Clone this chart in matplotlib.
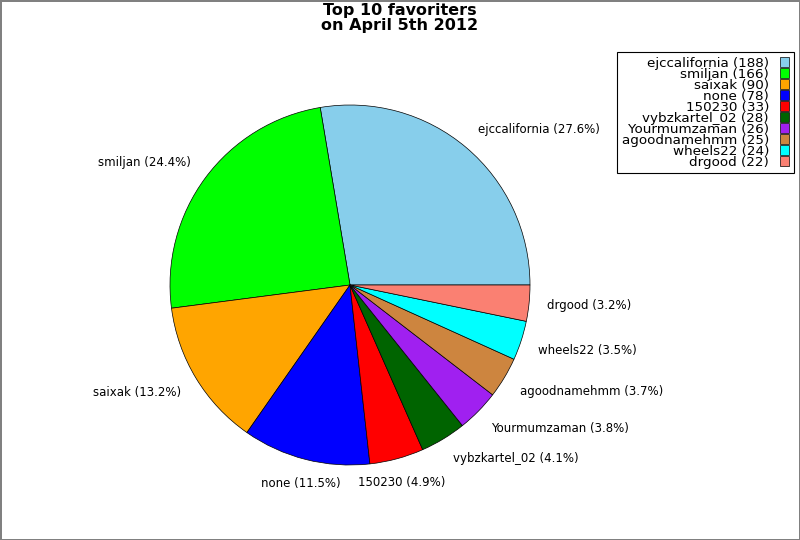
import matplotlib
matplotlib.use("Agg")
import numpy as np
import matplotlib.pyplot as plt

users = ["ejccalifornia", "smiljan", "saixak", "none", "150230",
         "vybzkartel_02", "Yourmumzaman", "agoodnamehmm", "wheels22", "drgood"]
counts = [188, 166, 90, 78, 33, 28, 26, 25, 24, 22]
colors = ["skyblue", "#00ff00", "orange", "blue", "red",
          "darkgreen", "#a020f0", "peru", "cyan", "salmon"]

total = float(sum(counts))
pie_labels = ["%s (%.1f%%)" % (u, 100.0 * c / total) for u, c in zip(users, counts)]
legend_labels = ["%s (%d)" % (u, c) for u, c in zip(users, counts)]

fig = plt.figure(figsize=(8, 5.4), dpi=100, edgecolor="gray", linewidth=1)
# pie of radius ~180px centred at (350, 285) from the top-left
ax = fig.add_axes([170 / 800., 75 / 540., 360 / 800., 360 / 540.])
wedges, texts = ax.pie(counts, labels=pie_labels, colors=colors, startangle=0,
                       counterclock=True, labeldistance=1.1,
                       wedgeprops={"edgecolor": "black", "linewidth": 0.5},
                       textprops={"fontsize": 8.5})
ax.set_xlim(-1, 1)
ax.set_ylim(-1, 1)
ax.set_aspect("equal")

# labels near the bottom are centred under their wedge,
# the others are pushed a little away from the horizontal
for w, t in zip(wedges, texts):
    mid = np.deg2rad((w.theta1 + w.theta2) / 2.0)
    if abs(np.cos(mid)) < 0.4:
        t.set_ha("center")
        t.set_va("top")
    elif abs(np.sin(mid)) > 0.3:
        x, y = t.get_position()
        t.set_position((x, y + 0.026 * np.sign(np.sin(mid))))

fig.suptitle("Top 10 favoriters\non April 5th 2012", fontsize=11.5,
             fontweight="bold", y=0.994, linespacing=1.0)

leg = fig.legend(wedges, legend_labels, loc="upper right",
                 bbox_to_anchor=(794 / 800., 1 - 52 / 540.),
                 markerfirst=False, fontsize=9.7, labelspacing=-0.15,
                 handlelength=0.7, handleheight=0.7, handletextpad=0.8,
                 borderpad=0.35, borderaxespad=0, fancybox=False, framealpha=1,
                 edgecolor="black")
leg.get_frame().set_linewidth(0.8)
for t in leg.get_texts():
    t.set_ha("right")

fig.savefig("out.png", dpi=100, edgecolor=fig.get_edgecolor())
